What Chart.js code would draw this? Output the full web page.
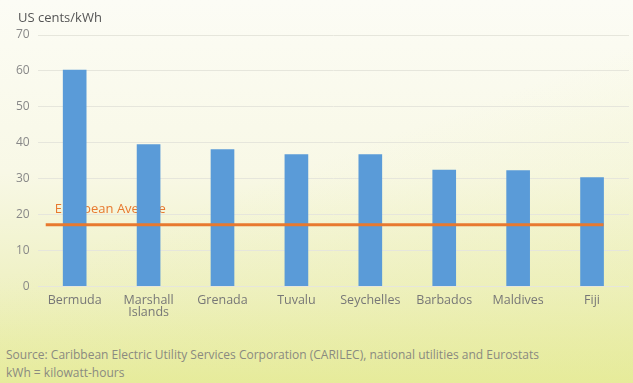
<!DOCTYPE html>
<html>
<head>
<meta charset="utf-8">
<script src="https://cdn.jsdelivr.net/npm/chart.js@4"></script>
<style>
  html, body { margin: 0; padding: 0; }
  body {
    width: 633px; height: 383px; overflow: hidden; position: relative;
    font-family: "Open Sans", sans-serif;
    background:
      linear-gradient(160deg, rgba(255,255,255,0) 45%, rgba(230,235,150,0.35) 100%),
      linear-gradient(180deg, #fcfcf5 0%, #f8f8e6 45%, #eff1c4 75%, #e6eb9c 100%);
  }
  #wrap { position: absolute; left: 0; top: 0; width: 633px; height: 322px; }
  #unit { position: absolute; left: 18px; top: 8px; font-size: 13px; line-height: 18px; color: #555; }
  .note { position: absolute; left: 6px; font-size: 12px; line-height: 16px; color: #8a8a80; }
</style>
</head>
<body>
<div id="wrap"><canvas id="chart"></canvas></div>
<div id="unit"></div>
<div class="note" style="top:347px">Source: Caribbean Electric Utility Services Corporation (CARILEC), national utilities and Eurostats</div>
<div class="note" style="top:365px">kWh = kilowatt-hours</div>
<script>
const countries = ["Bermuda", ["Marshall", "Islands"], "Grenada", "Tuvalu", "Seychelles", "Barbados", "Maldives", "Fiji"];
const prices = [60.2, 39.5, 38.1, 36.7, 36.7, 32.4, 32.2, 30.3];
const europeanAverage = 17.1;
const unitLabel = "US cents/kWh";

document.getElementById("unit").textContent = unitLabel;

const avgLinePlugin = {
    id: 'avgLine',
    beforeDatasetsDraw(chart) {
        // label sits behind the bars
        const ctx = chart.ctx;
        const y = chart.scales.y.getPixelForValue(europeanAverage);
        ctx.save();
        ctx.fillStyle = '#e8792f';
        ctx.font = '13px "Open Sans"';
        ctx.textBaseline = 'middle';
        ctx.fillText('European Average', chart.chartArea.left + 17, y - 16);
        ctx.restore();
    },
    afterDatasetsDraw(chart) {
        const ctx = chart.ctx;
        const y = chart.scales.y.getPixelForValue(europeanAverage);
        const bars = chart.getDatasetMeta(0).data;
        const last = bars[bars.length - 1];
        ctx.save();
        ctx.strokeStyle = '#e8792f';
        ctx.lineWidth = 3;
        ctx.beginPath();
        ctx.moveTo(chart.chartArea.left + 8, y);
        ctx.lineTo(last.x + last.width / 2, y);
        ctx.stroke();
        ctx.restore();
    }
};

new Chart(document.getElementById("chart"), {
    type: 'bar',
    data: {
        labels: countries,
        datasets: [{
            data: prices,
            backgroundColor: '#5a9bd8',
            barThickness: 23
        }]
    },
    options: {
        responsive: true,
        maintainAspectRatio: false,
        animation: false,
        layout: { padding: { left: 8, right: 4, top: 35, bottom: 4 } },
        plugins: {
            legend: { display: false },
            tooltip: { enabled: false }
        },
        scales: {
            x: {
                grid: { display: false },
                border: { display: false },
                ticks: {
                    color: '#777',
                    font: { family: 'Open Sans', size: 12.5, lineHeight: 0.95 },
                    padding: 0,
                    maxRotation: 0
                }
            },
            y: {
                min: 0,
                max: 70,
                ticks: {
                    stepSize: 10,
                    color: '#888',
                    font: { family: 'Open Sans', size: 12 },
                    padding: 8
                },
                grid: { color: '#e6e6dc', drawTicks: false },
                border: { display: false }
            }
        }
    },
    plugins: [avgLinePlugin]
});
</script>
</body>
</html>
